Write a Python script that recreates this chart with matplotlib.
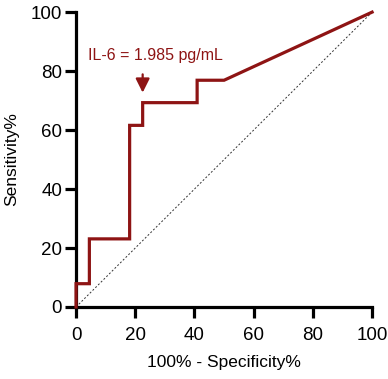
import matplotlib
matplotlib.use("Agg")
from matplotlib import pyplot as plt

plt.rcParams['font.family'] = ['Liberation Sans', 'DejaVu Sans']

# ROC curve steps (100% - specificity, sensitivity)
fpr = [0, 0, 4.5, 4.5, 18.1, 18.1, 22.5, 22.5, 40.9, 40.9, 50.0, 100]
tpr = [0, 7.9, 7.9, 23.1, 23.1, 61.6, 61.6, 69.3, 69.3, 76.9, 76.9, 100]
cutoff_x = 22.5
cutoff_y = 69.3
cutoff_label = "IL-6 = 1.985 pg/mL"
ticks = [0, 20, 40, 60, 80, 100]

red = '#8e1414'

fig = plt.figure(figsize=(3.88, 3.79), dpi=100)
ax = fig.add_axes([0.196, 0.19, 0.763, 0.778])

# chance line
ax.plot([0, 100], [0, 100], color='#333333', linestyle=(0, (2, 2)), linewidth=0.7)
ax.plot(fpr, tpr, color=red, linewidth=2.3, solid_joinstyle='miter', clip_on=False, zorder=3)

# cut-off marker
ax.annotate("", xy=(cutoff_x, cutoff_y + 3.4), xytext=(cutoff_x, cutoff_y + 9.6),
            arrowprops=dict(arrowstyle='-|>,head_length=0.6,head_width=0.3',
                            color=red, lw=1.6, mutation_scale=14, shrinkA=0, shrinkB=0))
ax.text(cutoff_x + 4.2, 85.4, cutoff_label, color=red, fontsize=11.5, ha='center', va='center')

ax.set_xlim(0, 100)
ax.set_ylim(0, 100)
ax.set_xticks(ticks)
ax.set_yticks(ticks)
for side in ['top', 'right']:
    ax.spines[side].set_visible(False)
for side in ['left', 'bottom']:
    ax.spines[side].set_linewidth(2.3)
ax.tick_params(width=2.3, length=8, labelsize=13.5)
ax.tick_params(axis='x', pad=6.5)
ax.tick_params(axis='y', pad=2)
ax.set_xlabel("100% - Specificity%", fontsize=12.5, labelpad=8)
ax.set_ylabel("Sensitivity%", fontsize=12.5, labelpad=8)

fig.savefig("out.png", dpi=100)
